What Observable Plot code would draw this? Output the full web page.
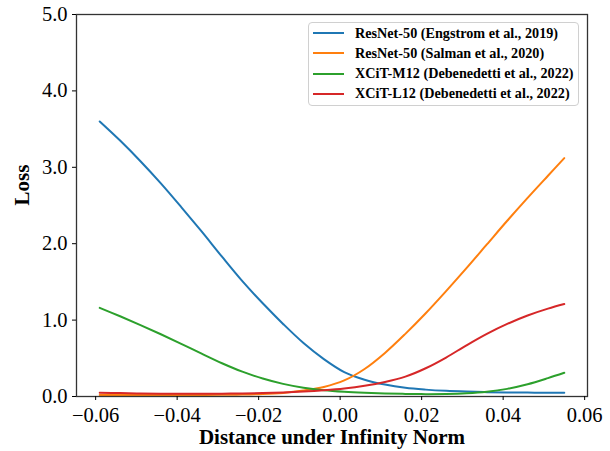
<!DOCTYPE html>
<html>
<head>
<meta charset="utf-8">
<script src="https://cdn.jsdelivr.net/npm/d3@7"></script>
<script src="https://cdn.jsdelivr.net/npm/@observablehq/plot@0.6"></script>
<style>
  html, body { margin: 0; padding: 0; background: #fff; }
  #wrap { position: relative; width: 610px; height: 451px; }
  #legend {
    position: absolute; left: 308px; top: 22px; width: 271px; height: 84px;
    border: 1px solid #d0d0d0; border-radius: 4px; background: rgba(255,255,255,0.85);
    box-sizing: border-box; font-family: "Liberation Serif", serif; font-weight: bold; font-size: 14.2px;
  }
  .row { position: absolute; left: 0; height: 20px; display: flex; align-items: center; white-space: nowrap; }
  .sw { width: 31px; height: 2px; margin-left: 4px; margin-right: 11px; }
</style>
</head>
<body>
<div id="wrap"></div>
<script>
const distance = [-0.059, -0.054, -0.049, -0.044, -0.039, -0.034, -0.029, -0.024, -0.019, -0.014, -0.009, -0.004,
                  0.001, 0.006, 0.011, 0.016, 0.021, 0.026, 0.031, 0.036, 0.041, 0.046, 0.051, 0.055];
const resnetEngstrom = [3.60, 3.35, 3.08, 2.79, 2.48, 2.16, 1.83, 1.51, 1.22, 0.95, 0.70, 0.49,
                        0.32, 0.22, 0.156, 0.114, 0.090, 0.074, 0.064, 0.057, 0.053, 0.051, 0.050, 0.050];
const resnetSalman = [0.020, 0.020, 0.020, 0.020, 0.020, 0.020, 0.022, 0.025, 0.032, 0.047, 0.078, 0.125,
                      0.21, 0.36, 0.57, 0.82, 1.09, 1.38, 1.68, 1.99, 2.30, 2.60, 2.89, 3.12];
const xcitM12 = [1.16, 1.05, 0.935, 0.815, 0.69, 0.56, 0.435, 0.325, 0.235, 0.165, 0.115, 0.082,
                 0.062, 0.049, 0.040, 0.034, 0.031, 0.033, 0.042, 0.062, 0.10, 0.16, 0.24, 0.31];
const xcitL12 = [0.050, 0.045, 0.040, 0.037, 0.035, 0.035, 0.037, 0.040, 0.045, 0.053, 0.065, 0.082,
                 0.105, 0.14, 0.19, 0.26, 0.37, 0.51, 0.67, 0.82, 0.95, 1.06, 1.15, 1.21];
const seriesNames = ["ResNet-50 (Engstrom et al., 2019)", "ResNet-50 (Salman et al., 2020)",
                     "XCiT-M12 (Debenedetti et al., 2022)", "XCiT-L12 (Debenedetti et al., 2022)"];
const seriesColors = ["#1f77b4", "#ff7f0e", "#2ca02c", "#d62728"];
const xTicks = [-0.06, -0.04, -0.02, 0, 0.02, 0.04, 0.06];
const yTicks = [0, 1, 2, 3, 4, 5];
const xLabel = "Distance under Infinity Norm";
const yLabel = "Loss";

const allSeries = [resnetEngstrom, resnetSalman, xcitM12, xcitL12];
const rows = [];
allSeries.forEach((vals, s) => distance.forEach((x, i) => rows.push({x, y: vals[i], s})));

const font = "Liberation Serif";
const fx = d3.format(".2f"), fy = d3.format(".1f");

const chart = Plot.plot({
  width: 610, height: 451,
  marginLeft: 76, marginRight: 23, marginTop: 14, marginBottom: 55,
  style: {fontFamily: font, fontSize: "20.5px", color: "#000", background: "#fff"},
  x: {domain: [-0.0647, 0.0607]},
  y: {domain: [0, 5]},
  marks: [
    ...allSeries.map((_, s) => Plot.line(rows.filter(r => r.s === s), {
      x: "x", y: "y", stroke: seriesColors[s], strokeWidth: 2, curve: "catmull-rom"
    })),
    Plot.frame({stroke: "#333", strokeWidth: 1.3}),
    Plot.axisX({ticks: xTicks, tickFormat: fx, tickSize: 4, tickPadding: 7, label: null, stroke: "#000"}),
    Plot.axisY({ticks: yTicks, tickFormat: fy, tickSize: 4, tickPadding: 5, label: null, stroke: "#000"}),
    Plot.text([xLabel], {frameAnchor: "bottom", dy: 47, fontWeight: "bold", fontSize: 21, fill: "#000"}),
    Plot.text([yLabel], {frameAnchor: "left", dx: -54, rotate: -90, fontWeight: "bold", fontSize: 21, fill: "#000"})
  ]
});
const wrap = document.getElementById("wrap");
wrap.appendChild(chart);

const legend = document.createElement("div");
legend.id = "legend";
seriesNames.forEach((name, i) => {
  const row = document.createElement("div");
  row.className = "row";
  row.style.top = (0.3 + i * 20.1) + "px";
  const sw = document.createElement("div");
  sw.className = "sw";
  sw.style.background = seriesColors[i];
  const t = document.createElement("span");
  t.textContent = name;
  row.appendChild(sw); row.appendChild(t);
  legend.appendChild(row);
});
wrap.appendChild(legend);
</script>
</body>
</html>
